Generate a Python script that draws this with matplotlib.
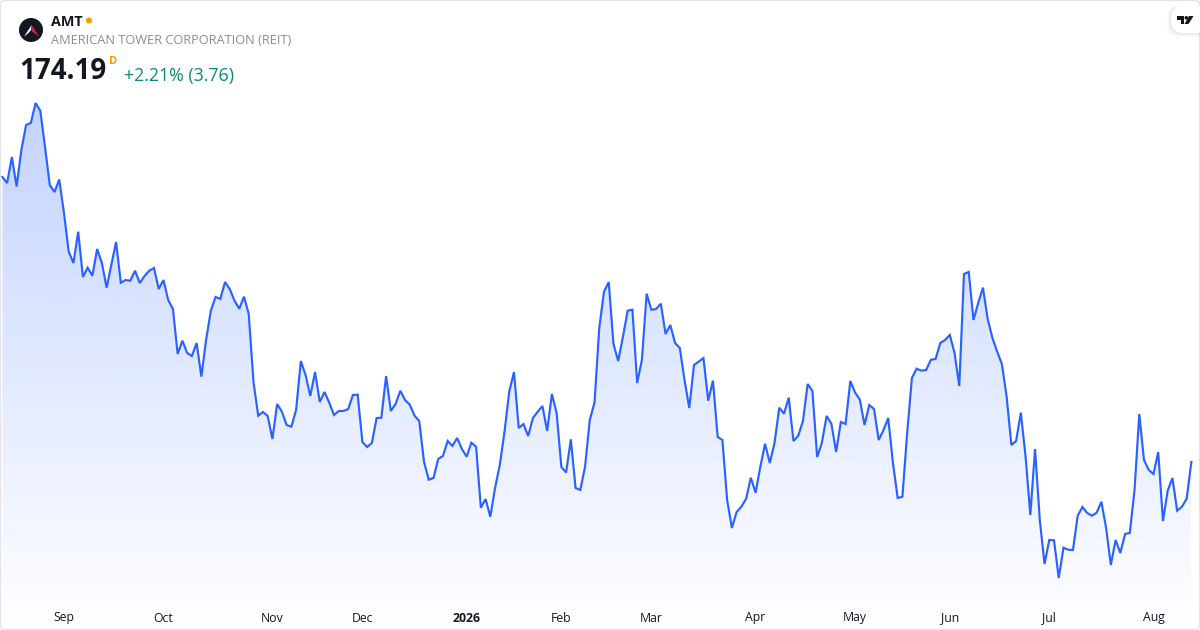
import matplotlib
matplotlib.use('Agg')
import matplotlib.pyplot as plt
import numpy as np
from matplotlib.patches import Circle, FancyBboxPatch, Polygon

# AMT daily close (the chart has no price axis, last value is the 174.19 quote)
prices = [
    221.69, 220.69, 225.02, 220.11, 226.19, 230.36, 230.69, 234.02, 232.74, 226.69,
    220.36, 219.19, 221.27, 215.69, 209.24, 207.36, 212.57, 205.02, 206.57, 205.24,
    209.69, 207.36, 203.24, 207.02, 210.86, 204.07, 204.52, 204.41, 206.07, 204.02,
    205.19, 206.07, 206.52, 203.02, 204.52, 201.19, 199.69, 192.19, 194.41, 192.36,
    191.86, 194.02, 188.41, 194.52, 199.41, 201.69, 201.36, 204.19, 203.02, 201.07,
    199.74, 201.74, 198.86, 187.57, 181.91, 182.52, 181.86, 178.02, 183.86, 182.57,
    180.36, 180.07, 182.86, 191.02, 188.69, 185.19, 189.19, 184.19, 185.86, 184.07,
    182.02, 182.69, 182.69, 183.02, 185.36, 185.41, 177.52, 176.69, 177.36, 181.52,
    181.57, 188.52, 182.69, 183.86, 186.07, 184.52, 183.74, 181.91, 181.02, 174.24,
    171.24, 171.52, 174.69, 175.19, 177.69, 176.86, 178.19, 176.36, 175.07, 177.41,
    176.74, 166.57, 168.02, 165.07, 169.86, 173.69, 179.24, 185.91, 189.19, 179.86,
    180.52, 178.52, 181.52, 182.57, 183.52, 179.36, 185.52, 182.36, 173.36, 172.44,
    177.97, 169.86, 169.52, 173.41, 181.19, 184.11, 196.52, 202.57, 204.19, 193.86,
    191.02, 195.07, 199.41, 199.57, 187.36, 191.19, 202.24, 199.57, 199.69, 200.57,
    195.52, 197.02, 194.02, 193.19, 187.86, 183.19, 190.36, 190.91, 191.52, 184.41,
    187.74, 178.36, 177.86, 167.86, 163.19, 165.86, 166.74, 168.07, 171.57, 169.07,
    173.36, 177.24, 174.02, 177.36, 183.24, 182.24, 184.91, 177.69, 178.57, 181.02,
    187.19, 186.02, 175.02, 177.41, 181.86, 180.57, 175.86, 180.86, 180.52, 187.69,
    185.77, 184.61, 180.36, 183.69, 183.02, 177.86, 179.52, 181.52, 174.02, 168.19,
    168.41, 179.02, 188.19, 189.74, 189.41, 189.52, 191.24, 191.36, 194.02, 194.52,
    195.36, 192.36, 186.86, 205.52, 205.86, 197.86, 200.69, 203.24, 198.02, 194.86,
    192.57, 190.52, 185.07, 177.02, 177.69, 182.41, 175.07, 165.36, 176.36, 164.52,
    157.19, 161.19, 161.14, 154.86, 159.91, 159.57, 159.52, 165.24, 166.69, 165.69,
    165.24, 165.74, 167.57, 163.19, 157.02, 161.19, 159.02, 162.19, 162.36, 169.52,
    182.19, 174.52, 172.86, 172.19, 175.86, 164.36, 169.41, 171.52, 166.07, 166.74,
    168.07, 174.19,
]
tick_labels = ['Sep', 'Oct', 'Nov', 'Dec', '2026', 'Feb', 'Mar', 'Apr', 'May', 'Jun', 'Jul', 'Aug']
tick_days = [13, 34, 57, 76, 98, 118, 137, 159, 180, 200, 221, 243]

FONT = ['Open Sans', 'DejaVu Sans']
BLUE = '#2962FF'
plt.rcParams['font.family'] = FONT

fig = plt.figure(figsize=(12, 6.3), dpi=100)

# chart fills the whole frame
ax = fig.add_axes([0, 0, 1, 1])
ax.axis('off')

x = np.arange(len(prices))
y = np.array(prices)

# gradient under the line, clipped to the area shape
floor = 146.19
top = y.max()
grad = np.ones((256, 2, 4))
grad[..., :3] = matplotlib.colors.to_rgb(BLUE)
grad[..., 3] = np.linspace(0.28, 0.0, 256)[:, None]
area = ax.fill_between(x, y, floor, color='none')
im = ax.imshow(grad, extent=(x[0], x[-1], floor, top), origin='upper', aspect='auto', zorder=1)
im.set_clip_path(area.get_paths()[0], transform=ax.transData)
ax.set_xlim(-0.507, 252.82)
ax.set_ylim(146.19, 251.19)

ax.plot(x, y, color=BLUE, lw=1.55, solid_joinstyle='miter', zorder=2)

for d, lab in zip(tick_days, tick_labels):
    ax.text(d, 12 / 630, lab, transform=ax.get_xaxis_transform(), ha='center', va='center',
            fontsize=8.8, color='#131722', fontweight='bold' if lab == '2026' else 'normal')

# header and frame, in pixel coordinates
ov = fig.add_axes([0, 0, 1, 1])
ov.set_xlim(0, 1200)
ov.set_ylim(630, 0)
ov.axis('off')
ov.patch.set_alpha(0)

ov.add_patch(FancyBboxPatch((0.5, 0.5), 1199, 629, boxstyle='round,pad=0,rounding_size=4',
                            fc='none', ec='#E3E4E8', lw=0.9))

# logo
ov.add_patch(Circle((31, 30), 12, fc='#131722', ec='none'))
ov.add_patch(Polygon([(24, 36.5), (31.7, 25), (31, 30), (28.5, 33)], fc='white', ec='none'))
ov.add_patch(Polygon([(31.7, 25), (39, 36.5), (32.5, 32), (31, 30)], fc='#D81E4A', ec='none'))

ov.text(51, 21.5, 'AMT', fontsize=10.4, fontweight='bold', color='#131722', va='center')
ov.add_patch(Circle((89, 20.5), 3, fc='#FF9800', ec='none'))
ov.text(51, 41, 'AMERICAN TOWER CORPORATION (REIT)', fontsize=9.2, color='#8A8D97', va='center')
ov.text(19, 71.5, '174.19', fontsize=20, fontweight='bold', color='#131722', va='center')
ov.text(109, 61.5, 'D', fontsize=8, fontweight='bold', color='#FF9800', va='center')
ov.text(124, 75.5, '+2.21% (3.76)', fontsize=12.75, color='#0B8A6F', va='center')

# TradingView badge
for off, al in ((4, 0.015), (3, 0.02), (2, 0.025), (1, 0.03)):
    ov.add_patch(FancyBboxPatch((1171 - off, 6), 60 + off, 27 + off, boxstyle='round,pad=0,rounding_size=12',
                                fc='black', ec='none', alpha=al))
ov.add_patch(FancyBboxPatch((1171, 6), 60, 27, boxstyle='round,pad=0,rounding_size=12', fc='white', ec='none'))
ov.add_patch(Polygon([(1177, 16), (1184, 16), (1184, 24), (1180.5, 24), (1180.5, 19.5), (1177, 19.5)], fc='#131722', ec='none'))
ov.add_patch(Circle((1186.3, 17.8), 1.8, fc='#131722', ec='none'))
ov.add_patch(Polygon([(1189, 16), (1193.5, 16), (1188.5, 24), (1184.5, 24)], fc='#131722', ec='none'))

fig.savefig('out.png', dpi=100, facecolor='white')
